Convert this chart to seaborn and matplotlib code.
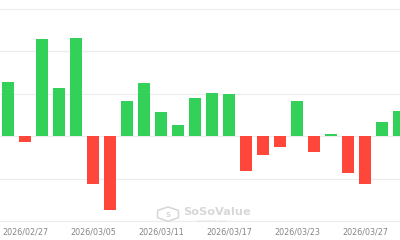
import matplotlib
matplotlib.use("Agg")
import matplotlib.pyplot as plt
import seaborn as sns
import pandas as pd
from matplotlib.patches import RegularPolygon

dates = ["2026/02/26", "2026/02/27", "2026/03/02", "2026/03/03", "2026/03/04",
         "2026/03/05", "2026/03/06", "2026/03/09", "2026/03/10", "2026/03/11",
         "2026/03/12", "2026/03/13", "2026/03/16", "2026/03/17", "2026/03/18",
         "2026/03/19", "2026/03/20", "2026/03/23", "2026/03/24", "2026/03/25",
         "2026/03/26", "2026/03/27", "2026/03/30", "2026/03/31"]
net_flow = [127, -14, 228, 113, 231, -113, -174, 84, 125, 58, 27, 91,
            101, 99, -81, -44, -25, 84, -37, 5, -85, -112, 34, 59]
tick_labels = ["2026/02/27", "2026/03/05", "2026/03/11", "2026/03/17",
               "2026/03/23", "2026/03/27"]

GREEN = "#33D15A"
RED = "#FF463B"

df = pd.DataFrame({"date": dates, "flow": net_flow})
df["sign"] = ["pos" if v >= 0 else "neg" for v in df["flow"]]

sns.set_style("white")
fig = plt.figure(figsize=(4, 2.4), dpi=100)
ax = fig.add_axes([0, 0.07, 1, 0.93])

sns.barplot(data=df, x="date", y="flow", hue="sign", order=dates,
            palette={"pos": GREEN, "neg": RED}, dodge=False, width=0.68,
            linewidth=0, saturation=1, legend=False, ax=ax, zorder=3)

ax.set_xlim(-0.47, 23.06)
ax.set_ylim(-204, 320)
ax.set_yticks([-200, -100, 0, 100, 200, 300])
ax.set_yticklabels([])
ax.grid(axis="y", color="#ececec", linewidth=0.8, zorder=0)
ax.set_axisbelow(True)

pos = [dates.index(t) for t in tick_labels]
ax.set_xticks(pos)
ax.set_xticklabels(tick_labels, fontsize=5.8, color="#858585")
ax.tick_params(axis="x", length=0, pad=3)
ax.tick_params(axis="y", length=0)
ax.set_xlabel("")
ax.set_ylabel("")
for s in ax.spines.values():
    s.set_visible(False)

# watermark
fig.text(0.458, 0.115, "SoSoValue", fontsize=8.2, fontweight="bold",
         color="#d8d8d8", ha="left", va="center")
fig.text(0.53, 0.08, "sosovalue.com", fontsize=3, color="#e0e0e0",
         ha="center", va="center")
hexa = RegularPolygon((0.42, 0.108), numVertices=6, radius=0.03,
                      transform=fig.transFigure, facecolor="none",
                      edgecolor="#d8d8d8", linewidth=1.2,
                      orientation=0)
fig.add_artist(hexa)
fig.text(0.42, 0.106, "S", fontsize=5, fontweight="bold", color="#d8d8d8",
         ha="center", va="center")

fig.savefig("out.png", dpi=100)
